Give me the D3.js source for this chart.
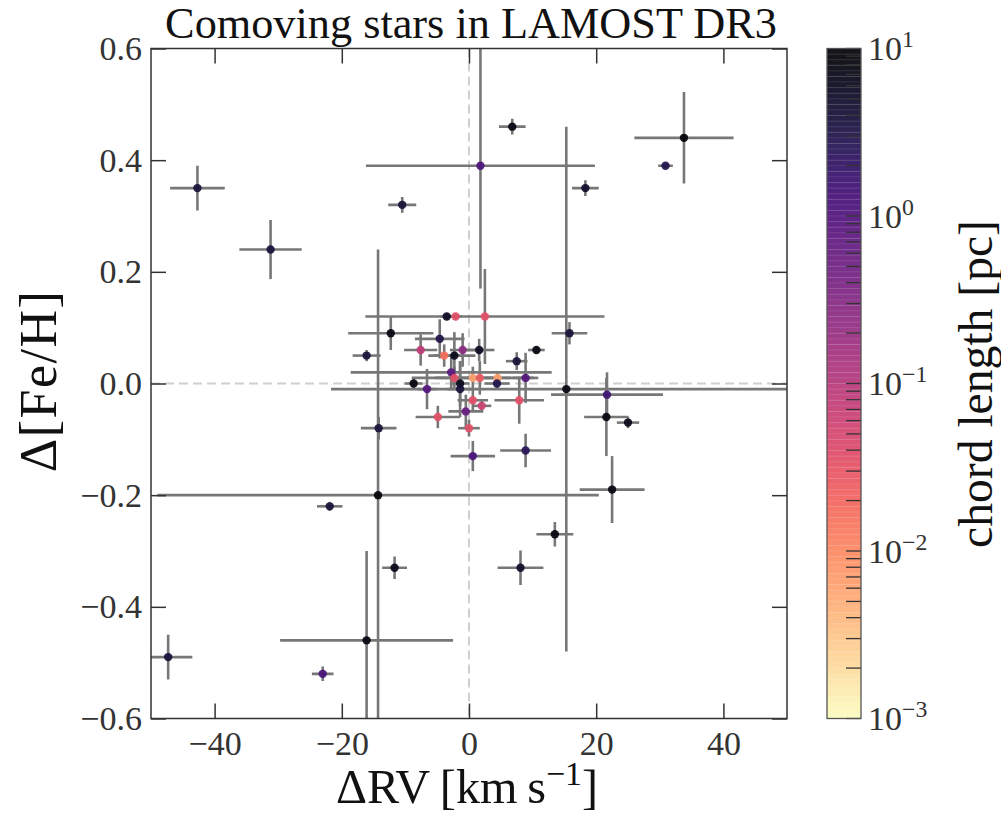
<!DOCTYPE html>
<html lang="en">
<head>
<meta charset="UTF-8">
<title>Comoving stars in LAMOST DR3</title>
<style>
  body { margin: 0; background: #fff; }
  text { font-family: "Liberation Serif", "DejaVu Serif", serif; }
</style>
</head>
<body>
<script src="https://d3js.org/d3.v7.min.js"></script>
<script>
// star pairs: RV difference, its error, [Fe/H] difference, its error, chord length (pc)
var dRV     = [-42.7, -31.2, -10.5,  1.8,  6.8, 33.8, 30.9, 18.3, 15.8, -3.5,
               -2.1,   2.5, -12.3, -4.6, -16.1, -7.6, -3.9, -1.0, -2.3,  1.6,
               10.6,   7.5,  -2.8, -2.3, -1.4, -1.4,  0.6,  1.7,  4.5,  4.4,
                8.9,  -8.7,  -6.6, 15.3,  0.6,  2.0,  7.9, -0.5, -4.9,  0.0,
              -14.2,   0.6,   8.9, 21.7, 21.6, 25.0, 22.5, 13.5,  8.1, -14.3,
              -21.9, -11.7, -16.1, -47.3, -23.0];
var dRVerr  = [4.3, 4.9, 2.2, 18.0, 2.1, 7.8, 1.15, 2.1, 2.8, 1.0,
               1.0, 18.8, 6.7, 3.9, 2.2, 2.6, 2.5, 2.0, 3.3, 2.4,
               1.3, 1.7, 15.8, 3.0, 1.5, 2.0, 9.6, 2.0, 2.0, 2.0,
               2.0, 1.4, 1.5, 37.0, 2.4, 1.5, 3.9, 2.75, 3.5, 1.7,
               2.8, 3.5, 4.0, 8.8, 3.5, 1.75, 5.1, 2.9, 3.6, 34.7,
               2.0, 1.95, 13.6, 3.8, 1.7];
var dFeH    = [0.35, 0.24, 0.32, 0.39, 0.46, 0.44, 0.39, 0.35, 0.09, 0.12,
               0.12, 0.12, 0.09, 0.08, 0.05, 0.06, 0.05, 0.06, 0.05, 0.06,
               0.06, 0.04, 0.02, 0.01, 0.00, -0.01, 0.01, 0.01, 0.01, 0.00,
               0.01, 0.00, -0.01, -0.01, -0.03, -0.04, -0.03, -0.05, -0.06, -0.08,
               -0.08, -0.13, -0.12, -0.02, -0.06, -0.07, -0.19, -0.27, -0.33, -0.20,
               -0.22, -0.33, -0.46, -0.49, -0.52];
var dFeHerr = [0.04, 0.053, 0.014, 0.22, 0.014, 0.082, 0.004, 0.014, 0.02, 0.005,
               0.005, 0.085, 0.03, 0.035, 0.01, 0.028, 0.02, 0.03, 0.042, 0.02,
               0.005, 0.016, 0.03, 0.02, 0.04, 0.05, 0.02, 0.03, 0.01, 0.01,
               0.045, 0.01, 0.036, 0.47, 0.02, 0.01, 0.042, 0.03, 0.02, 0.015,
               0.02, 0.027, 0.03, 0.04, 0.07, 0.01, 0.06, 0.022, 0.031, 0.44,
               0.008, 0.02, 0.16, 0.04, 0.013];
var chord   = [4, 4, 4, 1.2, 8, 10, 3, 5, 4, 6,
               0.035, 0.035, 8, 3, 4, 0.08, 0.016, 0.25, 7, 6,
               8, 4, 0.8, 0.035, 7, 4, 0.006, 0.025, 0.006, 3,
               1.0, 8, 1.0, 8, 0.035, 0.06, 0.035, 0.6, 0.035, 0.035,
               4, 1.2, 2.5, 1.5, 8, 7, 8, 8, 5, 10,
               4, 7, 8, 4, 1.2];

var xTicks = [-40, -20, 0, 20, 40];
var yTicks = [-0.6, -0.4, -0.2, 0.0, 0.2, 0.4, 0.6];
var cbMajor = [1e-3, 1e-2, 1e-1, 1e0, 1e1];
var cbExp = ["\u22123", "\u22122", "\u22121", "0", "1"];

var W = 1001, H = 815;
var L = 151, R = 787, T = 48.5, B = 718.5;
var tickLen = 15;

var svg = d3.select("body").append("svg")
    .attr("width", W).attr("height", H);

var x = d3.scaleLinear().domain([-50, 50]).range([L, R]);
var y = d3.scaleLinear().domain([-0.6, 0.6]).range([B, T]);
var cScale = d3.scaleLog().domain([1e-3, 1e1]).range([B, T]);
function col(v) { return d3.interpolateMagma(1 - (Math.log10(v) + 3) / 4); }

var pts = dRV.map(function (d, i) {
    return { x: d, xe: dRVerr[i], y: dFeH[i], ye: dFeHerr[i], c: chord[i] };
});

svg.append("clipPath").attr("id", "clip")
    .append("rect").attr("x", L).attr("y", T).attr("width", R - L).attr("height", B - T);

var plot = svg.append("g").attr("clip-path", "url(#clip)");

// zero reference lines
plot.append("line")
    .attr("x1", x(0)).attr("x2", x(0)).attr("y1", T).attr("y2", B)
    .attr("stroke", "#d0d0d0").attr("stroke-width", 2).attr("stroke-dasharray", "9,5");
plot.append("line")
    .attr("x1", L).attr("x2", R).attr("y1", y(0)).attr("y2", y(0))
    .attr("stroke", "#d0d0d0").attr("stroke-width", 2).attr("stroke-dasharray", "9,5");

// error bars
var eb = plot.append("g").attr("stroke", "#777").attr("stroke-width", 2.6);
eb.selectAll("line.xe").data(pts).enter().append("line").attr("class", "xe")
    .attr("x1", function (d) { return x(d.x - d.xe); })
    .attr("x2", function (d) { return x(d.x + d.xe); })
    .attr("y1", function (d) { return y(d.y); })
    .attr("y2", function (d) { return y(d.y); });
eb.selectAll("line.ye").data(pts).enter().append("line").attr("class", "ye")
    .attr("x1", function (d) { return x(d.x); })
    .attr("x2", function (d) { return x(d.x); })
    .attr("y1", function (d) { return y(d.y - d.ye); })
    .attr("y2", function (d) { return y(d.y + d.ye); });

// markers
plot.selectAll("circle").data(pts).enter().append("circle")
    .attr("cx", function (d) { return x(d.x); })
    .attr("cy", function (d) { return y(d.y); })
    .attr("r", 4.2)
    .attr("fill", function (d) { return col(d.c); })
    .attr("fill-opacity", 0.9);

// axes, ticks pointing inward
var fmtX = d3.format("d"), fmtY = d3.format(".1f");
function styleAxis(g) {
    g.select(".domain").remove();
    g.selectAll(".tick line").attr("stroke", "#333").attr("stroke-width", 1.5);
    g.selectAll(".tick text").attr("fill", "#333").attr("font-size", 34)
        .attr("font-family", '"Liberation Serif", "DejaVu Serif", serif');
}
svg.append("g").attr("transform", "translate(0," + B + ")")
    .call(d3.axisBottom(x).tickValues(xTicks).tickFormat(fmtX).tickSize(-tickLen).tickPadding(12))
    .call(styleAxis);
svg.append("g").attr("transform", "translate(0," + T + ")")
    .call(d3.axisTop(x).tickValues(xTicks).tickFormat("").tickSize(-tickLen))
    .call(styleAxis);
svg.append("g").attr("transform", "translate(" + L + ",0)")
    .call(d3.axisLeft(y).tickValues(yTicks).tickFormat(fmtY).tickSize(-tickLen).tickPadding(9))
    .call(styleAxis);
svg.append("g").attr("transform", "translate(" + R + ",0)")
    .call(d3.axisRight(y).tickValues(yTicks).tickFormat("").tickSize(-tickLen))
    .call(styleAxis);

svg.append("rect").attr("x", L).attr("y", T).attr("width", R - L).attr("height", B - T)
    .attr("fill", "none").attr("stroke", "#333").attr("stroke-width", 1.5);

function fit(sel, w) {
    var fs = parseFloat(sel.attr("font-size"));
    var len = sel.node().getComputedTextLength();
    sel.attr("font-size", fs * w / len);
}

// title and axis labels
var title = svg.append("text").attr("x", 471).attr("y", 38)
    .attr("text-anchor", "middle").attr("font-size", 36).attr("fill", "#111")
    .text("Comoving stars in LAMOST DR3");
fit(title, 612);

var xl = svg.append("text").attr("x", 467).attr("y", 803)
    .attr("text-anchor", "middle").attr("font-size", 42).attr("fill", "#111");
xl.append("tspan").text("\u0394RV\u2009[km\u2009s");
xl.append("tspan").attr("baseline-shift", "super").attr("font-size", "70%").text("\u22121");
xl.append("tspan").text("]");
fit(xl, 262);

var yl = svg.append("text").attr("transform", "translate(56,381) rotate(-90)")
    .attr("text-anchor", "middle").attr("font-size", 52).attr("fill", "#111")
    .attr("letter-spacing", 1.5)
    .text("\u0394[Fe/H]");

// colorbar
var cbL = 827, cbW = 34, nSeg = 120;
var cb = svg.append("g");
var segH = (B - T) / nSeg;
d3.range(nSeg).forEach(function (k) {
    var v0 = Math.log10(1e-3) + 4 * (k + 0.5) / nSeg;
    cb.append("rect")
        .attr("x", cbL).attr("width", cbW)
        .attr("y", B - (k + 1) * segH).attr("height", segH + 0.3)
        .attr("fill", col(Math.pow(10, v0))).attr("fill-opacity", 0.92);
});
d3.range(1, nSeg).forEach(function (k) {
    cb.append("line")
        .attr("x1", cbL).attr("x2", cbL + cbW)
        .attr("y1", B - k * segH).attr("y2", B - k * segH)
        .attr("stroke", "#fff").attr("stroke-opacity", 0.13).attr("stroke-width", 1);
});
var cbTicks = [];
for (var e = -3; e < 1; e++) {
    for (var m = 1; m < 10; m++) cbTicks.push(m * Math.pow(10, e));
}
cbTicks.push(10);
cb.selectAll("line.cbt").data(cbTicks).enter().append("line").attr("class", "cbt")
    .attr("x1", cbL + cbW - tickLen).attr("x2", cbL + cbW)
    .attr("y1", function (d) { return cScale(d); })
    .attr("y2", function (d) { return cScale(d); })
    .attr("stroke", "#333").attr("stroke-width", 1.3);
cb.append("rect").attr("x", cbL).attr("y", T).attr("width", cbW).attr("height", B - T)
    .attr("fill", "none").attr("stroke", "#555").attr("stroke-width", 1.3);

cbMajor.forEach(function (v, i) {
    var t = cb.append("text").attr("x", 868).attr("y", cScale(v)).attr("dy", "0.34em")
        .attr("font-size", 34).attr("fill", "#333");
    t.append("tspan").text("10");
    t.append("tspan").attr("baseline-shift", "super").attr("font-size", "70%").text(cbExp[i]);
});

var cl = svg.append("text").attr("transform", "translate(992,384) rotate(-90)")
    .attr("text-anchor", "middle").attr("font-size", 38).attr("fill", "#111")
    .text("chord length [pc]");
fit(cl, 328);
</script>
</body>
</html>
